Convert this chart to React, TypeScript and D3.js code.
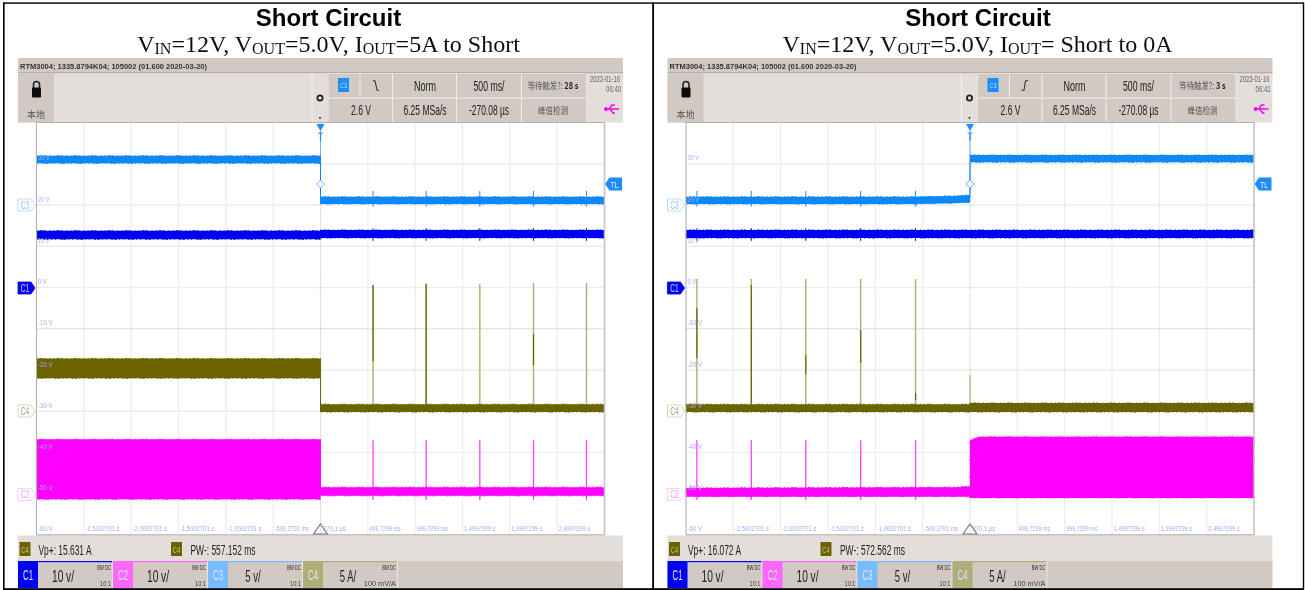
import React from "react";
import * as d3 from "d3";

// ---------- data ----------
type Pt = [number, number, number]; // time (s), low (V), high (V)
type Spike = [number, number, number, number]; // time, top V, dark-from V, dark-to V

const voltTicks = [30, 20, 10, 0, -10, -20, -30, -40, -50, -60];
const gridVolts = [30, 20, 10, 0, -20, -30, -40, -50];
const gridTimes = [-2.5, -2, -1.5, -1, -0.5, 0.5, 1, 1.5, 2, 2.5];
const timeLabels = ["-2,5002701 s", "-2,0002701 s", "-1,5002701 s", "-1,0002701 s", "-500,2701 ms", "270,1 µs", "499,7299 ms", "999,7299 ms", "1,4997299 s", "1,9997299 s", "2,4997299 s"];
const timeLabelAt = [-2.5, -2, -1.5, -1, -0.5, 0, 0.5, 1, 1.5, 2, 2.5];

const leftC3: Pt[][] = [[[-3, 30.1, 31.95], [0, 30.1, 31.95]], [[0, 20.24, 22], [3, 20.24, 22]]];
const leftC1: Pt[][] = [[[-3, 11.7, 13.77], [0, 11.7, 13.77]], [[0, 12, 13.94], [3, 12, 13.94]]];
const leftC4: Pt[][] = [[[-3, -22, -17.2], [0, -22, -17.2]], [[0, -30.2, -28.3], [3, -30.2, -28.3]]];
const leftC2: Pt[][] = [[[-3, -51.35, -36.8], [0, -51.35, -36.8]], [[0, -50.5, -48.4], [3, -50.5, -48.4]]];
const leftSpikes: Spike[] = [
  [0.555, 0.6, 0.6, -17.8],
  [1.116, 0.9, 0.9, -28.2],
  [1.683, 0.9, 0, 0],
  [2.25, 1.1, -11.3, -18.8],
  [2.81, 1.1, 0, 0],
];

const rightC3: Pt[][] = [[[-3, 20.24, 22], [-0.6, 20.24, 22], [-0.2, 20.4, 22.2], [0, 20.6, 22.4]], [[0, 30.35, 32.1], [3, 30.35, 32.1]]];
const rightC1: Pt[][] = [[[-3, 12, 13.94], [3, 12, 13.94]]];
const rightC4: Pt[][] = [[[-3, -30.2, -28.3], [0, -30.2, -28.3]], [[0, -30.2, -28], [3, -30.2, -28]]];
const rightC2: Pt[][] = [[[-3, -50.7, -48.6], [-0.15, -50.7, -48.4], [0, -50.7, -48.2]], [[0, -51, -37], [0.1, -51, -36.2], [3, -51, -36.2]]];
const rightSpikes: Spike[] = [
  [-2.885, 2.06, -5, -17.1],
  [-2.31, 2.06, 0.6, -28.2],
  [-1.735, 2.06, -16.4, -21],
  [-1.155, 2.06, -10.3, -18.3],
  [-0.575, 2.06, -25.6, -27.3],
];
const rightSmallSpike: Spike[] = [[0, -21.2, 0, 0]];

const channelScales = [
  { name: "C1", scale: "10 v/", tail: "10:1" },
  { name: "C2", scale: "10 v/", tail: "10:1" },
  { name: "C3", scale: "5 v/", tail: "10:1" },
  { name: "C4", scale: "5 A/", tail: "100 mV/A" },
];

const BLUE = "#0f88f5", DEEP = "#0505f0", OLIVE = "#6b6400", MAG = "#ff00ff";
const TAN = "#b5b17e", PANEL = "#e4dedb", CELL = "#d2c9c3", GRID = "#ededed", LBL = "#a8a8ff";
const channelFill = [DEEP, "#ff66ff", "#78bcff", "#b0ae78"];
const SANS = "'Liberation Sans', Arial, sans-serif";
const CJK = "'Noto Sans CJK SC', sans-serif";

// sx squeezes a text horizontally with a transform; w fits it to a length with textLength.
const T = ({ x, y, w, sx, size = 10, fill = "#222", anchor = "start", weight = 400, family = SANS, children }: any) =>
  sx ? (
    <text transform={`translate(${x},${y}) scale(${sx},1)`} fontSize={size} fill={fill} textAnchor={anchor}
      fontWeight={weight} fontFamily={family}>{children}</text>
  ) : (
    <text x={x} y={y} fontSize={size} fill={fill} textAnchor={anchor} fontWeight={weight} fontFamily={family}
      textLength={w} lengthAdjust={w ? "spacingAndGlyphs" : undefined}>{children}</text>
  );

const Trace = ({ segs, color, x, y, fuzz = true }: any) => {
  const area = d3.area<Pt>().x((d) => x(d[0])).y0((d) => y(d[1])).y1((d) => y(d[2]));
  return (
    <g>
      {segs.map((s: Pt[], i: number) => (
        <path key={i} d={area(s) || ""} fill={color} stroke={fuzz ? color : "none"} strokeWidth={0.9} strokeDasharray="1 2 3 1 2 4 1 3" />
      ))}
      {segs.length > 1 && (
        <line x1={x(0)} x2={x(0)} strokeWidth={1}
          y1={y(segs[0][segs[0].length - 1][2])} y2={y(segs[1][0][1])} stroke={color} />
      )}
    </g>
  );
};

const Tag = ({ x, y, label, stroke, fill, text }: any) => (
  <g>
    <path d={`M${x},${y - 6}H${x + 13}L${x + 17},${y}L${x + 13},${y + 6}H${x}Z`} fill={fill} stroke={stroke} strokeWidth={0.8} />
    <T x={x + 7} y={y + 3.8} size={10.5} fill={text} anchor="middle" w={8.5}>{label}</T>
  </g>
);

const Panel = ({ dx, sub3, c3, c1, c4, c2, spikes, small, vp, pw, slope, waitHead, waitTail, clock }: any) => {
  const x = d3.scaleLinear().domain([-3, 3]).range([36.5 + dx, 604.5 + dx]);
  const y = d3.scaleLinear().domain([-60, 40]).range([535, 122.5]);
  const xc = x(0);
  const X = (v: number) => v + dx;
  const cellTop = [[328.5, 359.5], [360.5, 392], [393, 456], [457, 521], [522, 586]];
  const cellBot = [[328.5, 392], [393, 456], [457, 521], [522, 586]];
  const subtitleStyle = { fontFamily: "'Liberation Serif', 'Times New Roman', serif" };
  return (
    <g>
      {/* toolbar */}
      <rect x={X(18)} y={58} width={605} height={15} fill={CELL} />
      <line x1={X(18)} x2={X(623)} y1={73} y2={73} stroke="#9c9590" />
      <rect x={X(18)} y={73.5} width={605} height={49} fill={PANEL} />
      <rect x={X(18)} y={73.5} width={36} height={49} fill={CELL} />
      <rect x={X(328)} y={73.5} width={258.5} height={49} fill="#f0ecea" />
      {cellTop.map(([a, b], i) => <rect key={i} x={X(a)} y={74} width={b - a} height={23.5} fill={CELL} />)}
      {cellBot.map(([a, b], i) => <rect key={i} x={X(a)} y={98.5} width={b - a} height={23.5} fill={CELL} />)}
      <line x1={X(312)} x2={X(312)} y1={74} y2={122} stroke="#f4f1ef" />
      <T x={X(20)} y={69} size={8} w={187} weight={700} fill="#333">RTM3004; 1335.8794K04; 105002 (01.600 2020-03-20)</T>
      <path d={`M${X(33.5)},88V84.5a3,3 0 0 1 6,0V88`} fill="none" stroke="#222" strokeWidth={1.6} />
      <rect x={X(32)} y={87.5} width={9} height={10} rx={1} fill="#111" />
      <T x={X(36)} y={118} size={9} anchor="middle" family={CJK} fill="#555">本地</T>
      <circle cx={X(320)} cy={98} r={2.6} fill="none" stroke="#222" strokeWidth={1.8} />
      <path d={`M${X(318.8)},117H${X(321.2)}L${X(320)},119.5Z`} fill="#333" />
      <rect x={X(338)} y={78} width={11} height={14} fill="#1a8cff" />
      <T x={X(343.5)} y={88} size={8} anchor="middle" fill="#bfe0ff" w={7}>C3</T>
      <path d={slope === "down" ? `M${X(373)},80.5L${X(375)},81L${X(377)},90L${X(379)},90.5` : `M${X(372)},90.5L${X(374.5)},90L${X(376)},81L${X(378.5)},80.5`} fill="none" stroke="#333" strokeWidth={1.1} />
      <T x={X(425)} y={91} size={14.5} anchor="middle" w={22}>Norm</T>
      <T x={X(489)} y={91} size={14.5} anchor="middle" w={31}>500 ms/</T>
      <T x={X(553)} y={89} size={9} anchor="middle" sx={0.82} family={CJK} fill="#555">
        {waitHead}<tspan fontWeight={700} fill="#222">{waitTail}</tspan>
      </T>
      <T x={X(620)} y={82} size={8.5} anchor="end" sx={0.69} fill="#666">2023-01-16</T>
      <T x={X(621)} y={92} size={8.5} anchor="end" sx={0.7} fill="#666">{clock}</T>
      <g stroke={MAG} strokeWidth={1.4} fill="none">
        <path d={`M${X(605)},109H${X(619)}M${X(609)},109L${X(612)},105H${X(615)}M${X(610)},109L${X(613)},113H${X(615)}`} />
        <circle cx={X(606)} cy={109} r={1.2} fill={MAG} />
      </g>
      <T x={X(361)} y={115} size={14} anchor="middle" w={20}>2.6 V</T>
      <T x={X(425)} y={115} size={14} anchor="middle" w={43}>6.25 MSa/s</T>
      <T x={X(489)} y={115} size={14} anchor="middle" w={40}>-270.08 µs</T>
      <T x={X(553)} y={114} size={9} anchor="middle" w={30} family={CJK} fill="#555">峰值检测</T>

      {/* plot area */}
      <rect x={x(-3)} y={122.5} width={568} height={412.5} fill="#fff" />
      {gridTimes.map((t) => <line key={t} x1={x(t)} x2={x(t)} y1={122.5} y2={535} stroke={GRID} strokeWidth={1.2} />)}
      {gridVolts.map((v) => <line key={v} x1={x(-3)} x2={x(3)} y1={y(v)} y2={y(v)} stroke={GRID} strokeWidth={1.4} />)}
      <line x1={x(-3)} x2={x(3)} y1={y(-10)} y2={y(-10)} stroke="#dedede" />
      <line x1={xc} x2={xc} y1={122.5} y2={535} stroke="#e2e2e2" />
      {d3.range(-3, 3.01, 0.1).map((t) => <line key={t} x1={x(t)} x2={x(t)} y1={y(-10) - 1.5} y2={y(-10) + 1.5} stroke="#dcdcdc" strokeWidth={0.7} />)}
      {d3.range(-60, 40.01, 2).map((v) => <line key={v} x1={xc - 1.5} x2={xc + 1.5} y1={y(v)} y2={y(v)} stroke="#dcdcdc" strokeWidth={0.7} />)}

      {/* spikes under the bands */}
      {spikes.map((s: Spike, i: number) => (
        <g key={i}>
          <line x1={x(s[0])} x2={x(s[0])} y1={y(23.4)} y2={y(19.6)} stroke={BLUE} strokeWidth={0.9} />
          <line x1={x(s[0])} x2={x(s[0])} y1={y(14.4)} y2={y(11.3)} stroke={DEEP} strokeWidth={0.9} />
          <line x1={x(s[0])} x2={x(s[0])} y1={y(s[1])} y2={y(-30)} stroke={TAN} strokeWidth={1.5} />
          {s[2] !== s[3] && <line x1={x(s[0])} x2={x(s[0])} y1={y(s[2])} y2={y(s[3])} stroke={OLIVE} strokeWidth={1.2} />}
          <line x1={x(s[0])} x2={x(s[0])} y1={y(-37)} y2={y(-51.5)} stroke="#ff40ff" strokeWidth={1.3} />
        </g>
      ))}
      {small.map((s: Spike, i: number) => <line key={i} x1={x(s[0])} x2={x(s[0])} y1={y(s[1])} y2={y(-29)} stroke={TAN} strokeWidth={1.2} />)}

      {/* trigger line sits behind the C3 trace */}
      <line x1={xc} x2={xc} y1={131} y2={y(21)} stroke="#6ab0ff" strokeWidth={0.9} />
      <Trace segs={c3} color={BLUE} x={x} y={y} />
      <Trace segs={c1} color={DEEP} x={x} y={y} />
      <Trace segs={c4} color={OLIVE} x={x} y={y} />
      <Trace segs={c2} color={MAG} x={x} y={y} />

      {voltTicks.map((v) => (
        <T key={v} x={x(-3) + 1.5} y={y(v) - (v === -60 ? 4.5 : 3.5)} size={7} fill={LBL} w={(`${v} V`.length) * 2.9}>{`${v} V`}</T>
      ))}
      {timeLabels.map((l, i) => (
        <T key={l} x={x(timeLabelAt[i]) + (timeLabelAt[i] === 0 ? 2.5 : 1.5)} y={530.5} size={7} fill={LBL} w={l.length * 2.85}>{l}</T>
      ))}

      {/* frame */}
      <line x1={x(-3)} x2={x(-3)} y1={122} y2={535} stroke="#b0b0b0" strokeWidth={1.1} />
      <line x1={x(3)} x2={x(3)} y1={122} y2={535} stroke="#c0c0c0" strokeWidth={1.5} />
      <line x1={x(-3)} x2={x(3)} y1={122.5} y2={122.5} stroke="#b0b0b0" />
      <line x1={x(-3)} x2={x(3)} y1={535} y2={535} stroke="#888" />

      {/* markers */}
      <path d={`M${xc - 4},124L${xc + 4},124L${xc},131Z`} fill="#1a8cff" />
      <path d={`M${xc - 2.5},133H${xc + 2.5}M${xc},133V141`} stroke="#1a8cff" strokeWidth={1.2} fill="none" />
      <path d={`M${xc},180L${xc + 4},184L${xc},188L${xc - 4},184Z`} fill="#fff" stroke="#6ab0ff" />
      <path d={`M${xc},524L${xc + 7},534H${xc - 7}Z`} fill="none" stroke="#777" strokeWidth={1.1} />
      <path d={`M${X(605)},184L${X(609.5)},177.5H${X(622)}V190.5H${X(609.5)}Z`} fill="#1a8cff" />
      <T x={X(614.5)} y={187.5} size={9.5} anchor="middle" fill="#e8f3ff" w={8}>TL</T>
      <Tag x={X(18)} y={205} label="C3" stroke="#a8d4ff" fill="#fff" text="#8cc6ff" />
      <Tag x={X(18)} y={288} label="C1" stroke={DEEP} fill={DEEP} text="#cfd4ff" />
      <Tag x={X(18)} y={411} label="C4" stroke="#cfcdaa" fill="#fff" text="#a5a37a" />
      <Tag x={X(18)} y={494.5} label="C2" stroke="#ffc0ff" fill="#fff" text="#ff99ff" />

      {/* footer */}
      <rect x={X(18)} y={535.5} width={605} height={25.5} fill={PANEL} />
      {[19.5, 171].map((bx, i) => (
        <g key={i}>
          <rect x={X(bx)} y={542} width={11} height={14} fill={OLIVE} />
          <T x={X(bx + 5.5)} y={552.5} size={8.5} anchor="middle" fill="#c8c48c" w={7.5}>C4</T>
        </g>
      ))}
      <T x={X(38.5)} y={555} size={15.5} w={53}>{vp}</T>
      <T x={X(190.5)} y={555} size={15.5} w={65}>{pw}</T>
      <rect x={X(18)} y={561} width={605} height={27} fill={CELL} />
      {channelScales.map((c, i) => {
        const left = 18 + i * 95;
        return (
          <g key={c.name}>
            <rect x={X(left)} y={561} width={20} height={27} fill={channelFill[i]} />
            <rect x={X(left + 20)} y={561} width={74.5} height={1.2} fill={channelFill[i]} />
            <line x1={X(left + 94.5)} x2={X(left + 94.5)} y1={561} y2={588} stroke="#f0ecea" strokeWidth={0.8} />
            <T x={X(left + 10)} y={580} size={14} anchor="middle" fill="#dfe3ff" w={10}>{c.name}</T>
            <T x={X(left + 45)} y={582} size={17} anchor="middle" sx={c.scale.length > 4 ? 0.6 : 0.56}>{c.scale}</T>
            <T x={X(left + 93)} y={570} size={7.5} anchor="end" sx={0.55}>BW DC</T>
            <T x={X(left + 93)} y={586} size={7.5} anchor="end" fill="#444" sx={c.tail.length > 4 ? 0.98 : 0.75}>{c.tail}</T>
          </g>
        );
      })}

      {/* headings */}
      <T x={X(328.5)} y={26} size={24} anchor="middle" weight={700} fill="#000">Short Circuit</T>
      <text x={X(sub3.cx)} y={52} fontSize={24} textAnchor="middle" fill="#111" style={subtitleStyle}>
        V<tspan fontSize={16} dy={1.5}>IN</tspan><tspan dy={-1.5}>=12V, V</tspan>
        <tspan fontSize={16} dy={1.5}>OUT</tspan><tspan dy={-1.5}>=5.0V, I</tspan>
        <tspan fontSize={16} dy={1.5}>OUT</tspan><tspan dy={-1.5}>{sub3.tail}</tspan>
      </text>
    </g>
  );
};

export default function App() {
  return (
    <svg width={1305} height={590} viewBox="0 0 1305 590"
      style={{ position: "absolute", left: 0, top: 0, display: "block", background: "#fff" }}>
      <defs>
        <filter id="soft" x="0" y="0" width="1305" height="590" filterUnits="userSpaceOnUse">
          <feGaussianBlur stdDeviation="0.38" />
        </filter>
      </defs>
      <g filter="url(#soft)">
        <Panel dx={0} sub3={{ cx: 328.5, tail: "=5A to Short" }} c3={leftC3} c1={leftC1} c4={leftC4} c2={leftC2}
          spikes={leftSpikes} small={[]} vp="Vp+: 15.631 A" pw="PW-: 557.152 ms" slope="down"
          waitHead="等待触发?: " waitTail="28 s" clock="06:40" />
        <Panel dx={649.5} sub3={{ cx: 328, tail: "= Short to 0A" }} c3={rightC3} c1={rightC1} c4={rightC4} c2={rightC2}
          spikes={rightSpikes} small={rightSmallSpike} vp="Vp+: 16.072 A" pw="PW-: 572.562 ms" slope="up"
          waitHead="等待触发?: " waitTail="3 s" clock="06:41" />
      </g>
      <rect x={3} y={2.4} width={1300.5} height={1.4} fill="#000" />
      <rect x={3} y={2.4} width={1.6} height={587} fill="#000" />
      <rect x={652.2} y={2.4} width={1.8} height={587} fill="#000" />
      <rect x={1302.8} y={2.4} width={1.4} height={587} fill="#000" />
      <rect x={3} y={588.2} width={1301} height={1.8} fill="#000" />
    </svg>
  );
}
